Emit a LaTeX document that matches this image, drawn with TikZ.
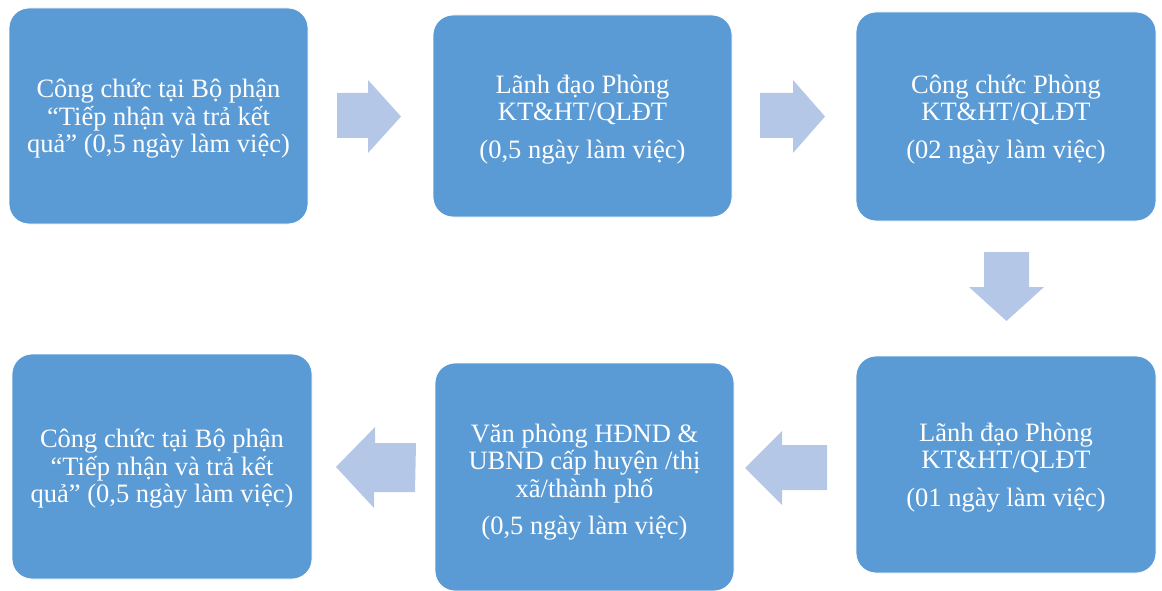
\documentclass[tikz,border=0pt]{standalone}
\usepackage{fontspec}
\setmainfont{Liberation Serif}
\definecolor{boxblue}{HTML}{5B9BD5}
\definecolor{arrowblue}{HTML}{B4C7E7}
\tikzset{
  stepbox/.style={draw=white, line width=0.8pt, fill=boxblue, rounded corners=20pt},
  steptext/.style={text=white, align=center, inner sep=0pt,
    font=\fontsize{26.5}{27.5}\selectfont},
  blockarrow/.style={fill=arrowblue, draw=none}
}
\begin{document}
\begin{tikzpicture}[x=1pt,y=-1pt]
\useasboundingbox (0,0) rectangle (1162,591);
% boxes
\path[stepbox] (9,8) rectangle (308,224);
\node[steptext] (b1) at (158.5,119) {Công chức tại Bộ phận\\“Tiếp nhận và trả kết\\quả” (0,5 ngày làm việc)};
\path[stepbox] (433,15) rectangle (732,217);
\node[steptext] (b2) at (582.5,119.5) {Lãnh đạo Phòng\\KT\&HT/QLĐT\\[10pt](0,5 ngày làm việc)};
\path[stepbox] (856,12) rectangle (1156,221);
\node[steptext] (b3) at (1006,119.5) {Công chức Phòng\\KT\&HT/QLĐT\\[10pt](02 ngày làm việc)};
\path[stepbox] (856,356) rectangle (1156,573);
\node[steptext] (b4) at (1006,467.5) {Lãnh đạo Phòng\\KT\&HT/QLĐT\\[10pt](01 ngày làm việc)};
\path[stepbox] (435,363) rectangle (734,591);
\node[steptext] (b5) at (584.5,482) {Văn phòng HĐND \&\\UBND cấp huyện /thị\\xã/thành phố\\[10pt](0,5 ngày làm việc)};
\path[stepbox] (12,354) rectangle (312,579);
\node[steptext] (b6) at (162,469) {Công chức tại Bộ phận\\“Tiếp nhận và trả kết\\quả” (0,5 ngày làm việc)};
% block arrows
\fill[blockarrow] (337,93) -- (368,93) -- (368,80) -- (401,116.5) -- (368,153) -- (368,138) -- (337,138) -- cycle;
\fill[blockarrow] (760,93) -- (793,93) -- (793,80) -- (825,116.5) -- (793,153) -- (793,138) -- (760,138) -- cycle;
\fill[blockarrow] (984,252) -- (1029,252) -- (1029,287) -- (1044,287) -- (1006.5,321) -- (969,287) -- (984,287) -- cycle;
\fill[blockarrow] (827,445) -- (782,445) -- (782,431) -- (745,468) -- (782,505) -- (782,490) -- (827,490) -- cycle;
\fill[blockarrow] (416,443) -- (375,443) -- (375,427) -- (336,467) -- (374,508) -- (374,492) -- (415,492) -- cycle;
\end{tikzpicture}
\end{document}
